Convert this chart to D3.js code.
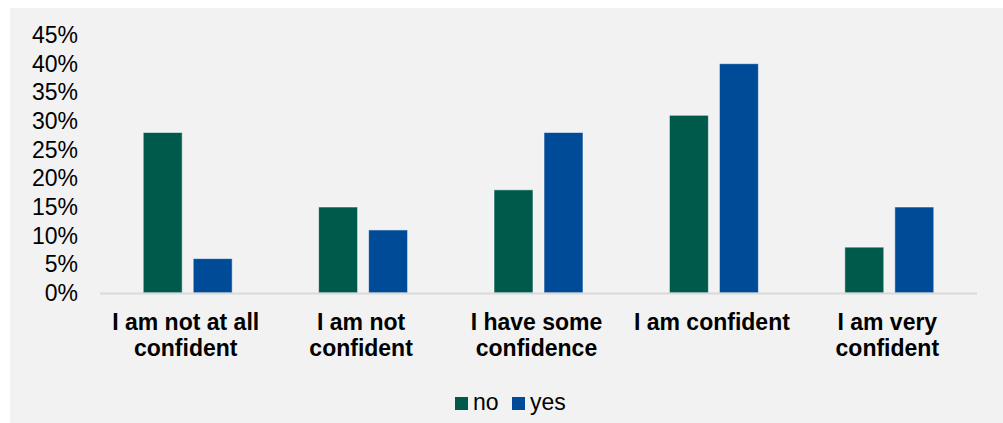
<!DOCTYPE html>
<html>
<head>
<meta charset="utf-8">
<script src="https://cdn.jsdelivr.net/npm/d3@7"></script>
<style>
  body { margin: 0; background: #ffffff; }
  svg { display: block; font-family: "Liberation Sans", Arial, sans-serif; }
</style>
</head>
<body>
<svg id="chart" width="1003" height="423"></svg>
<script>
// Chart data
const categories = [
    ["I am not at all", "confident"],
    ["I am not", "confident"],
    ["I have some", "confidence"],
    ["I am confident"],
    ["I am very", "confident"]
];
const seriesNames = ["no", "yes"];
const noValues = [0.28, 0.15, 0.18, 0.31, 0.08];
const yesValues = [0.06, 0.11, 0.28, 0.40, 0.15];
const yTicks = [0, 0.05, 0.10, 0.15, 0.20, 0.25, 0.30, 0.35, 0.40, 0.45];

const colors = { no: "#005a4b", yes: "#004b98" };

// Size parameters
const size = { width: 1003, height: 423, left: 100, right: 977, top: 35, bottom: 293 };

const svg = d3.select("#chart");

// Chart background panel
svg.append("rect")
    .attr("x", 10).attr("y", 8)
    .attr("width", size.width - 10).attr("height", size.height - 8)
    .attr("fill", "#f2f2f2");

const catKeys = categories.map((c, i) => i);

// Outer scale for categories, inner scale for the series
const x0 = d3.scaleBand()
    .domain(catKeys)
    .range([size.left, size.right]);

const groupWidth = 89;
const x1 = d3.scaleBand()
    .domain(seriesNames)
    .range([0, groupWidth])
    .paddingInner(0.22);

const y = d3.scaleLinear()
    .domain([0, 0.45])
    .range([size.bottom, size.top]);

// Y axis tick labels
const yAxis = d3.axisLeft(y)
    .tickValues(yTicks)
    .tickFormat(d3.format(".0%"))
    .tickSize(0)
    .tickPadding(0);

const yG = svg.append("g")
    .attr("transform", "translate(78,0)")
    .call(yAxis);
yG.select(".domain").remove();
yG.selectAll("text")
    .attr("font-size", 23)
    .attr("fill", "#000")
    .attr("font-family", "Liberation Sans, Arial, sans-serif");

// Bars
const rows = catKeys.map(i => ({ i: i, no: noValues[i], yes: yesValues[i] }));

const groups = svg.selectAll("g.group")
    .data(rows)
    .enter().append("g")
    .attr("class", "group")
    .attr("transform", d => `translate(${x0(d.i) + x0.bandwidth() / 2 - groupWidth / 2},0)`);

groups.selectAll("rect")
    .data(d => seriesNames.map(k => ({ key: k, value: d[k] })))
    .enter().append("rect")
    .attr("x", d => x1(d.key))
    .attr("y", d => y(d.value))
    .attr("width", x1.bandwidth())
    .attr("height", d => y(0) - y(d.value))
    .attr("fill", d => colors[d.key])
    .attr("stroke", "rgba(255,255,255,0.55)")
    .attr("stroke-width", 1);

// X axis line
svg.append("line")
    .attr("x1", size.left).attr("x2", size.right)
    .attr("y1", y(0) + 0.5).attr("y2", y(0) + 0.5)
    .attr("stroke", "#d9d9d9")
    .attr("stroke-width", 2);

// Category labels (bold, wrapped)
const labels = svg.selectAll("text.cat")
    .data(categories)
    .enter().append("text")
    .attr("class", "cat")
    .attr("text-anchor", "middle")
    .attr("font-size", 23)
    .attr("font-weight", "bold")
    .attr("fill", "#000");

labels.each(function(lines, i) {
    const t = d3.select(this);
    lines.forEach((line, j) => {
        t.append("tspan")
            .attr("x", x0(i) + x0.bandwidth() / 2 - 2)
            .attr("y", 330 + j * 26)
            .text(line);
    });
});

// Legend
const legend = svg.append("g").attr("transform", "translate(455,397)");
const legendX = { no: 0, yes: 57 };
seriesNames.forEach(k => {
    legend.append("rect")
        .attr("x", legendX[k]).attr("y", 0)
        .attr("width", 13).attr("height", 13)
        .attr("fill", colors[k]);
    legend.append("text")
        .attr("x", legendX[k] + 18).attr("y", 13)
        .attr("font-size", 23)
        .attr("fill", "#000")
        .text(k);
});
</script>
</body>
</html>
